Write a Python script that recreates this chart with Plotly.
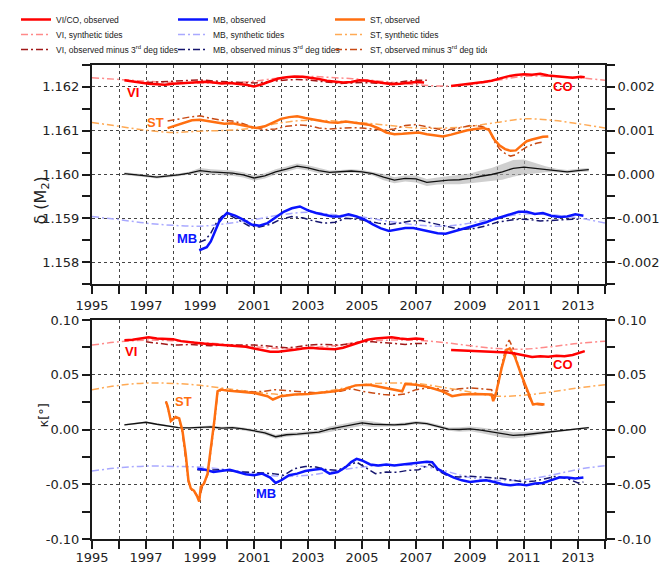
import plotly.graph_objects as go

# ================= DATA =================
# ---- top panel: delta(M2) ----
syn_years = [1995, 1996, 1997, 1998, 1999, 2000, 2001, 2002, 2003, 2004,
             2005, 2006, 2007, 2008, 2009, 2010, 2011, 2012, 2013, 2014]

vi_syn_d = [1.16221, 1.16217, 1.16213, 1.16210, 1.16209, 1.16209, 1.16213, 1.16221, 1.16224, 1.16221,
            1.16217, 1.16211, 1.16205, 1.16202, 1.16205, 1.16215, 1.16224, 1.16224, 1.16221, 1.16215]
st_syn_d = [1.16119, 1.16110, 1.16101, 1.16096, 1.16099, 1.16101, 1.16106, 1.16118, 1.16124, 1.16122,
            1.16118, 1.16112, 1.16106, 1.16106, 1.16110, 1.16119, 1.16127, 1.16124, 1.16116, 1.16106]
mb_syn_d = [1.15904, 1.15897, 1.15889, 1.15884, 1.15882, 1.15888, 1.15897, 1.15908, 1.15914, 1.15908,
            1.15903, 1.15893, 1.15885, 1.15882, 1.15889, 1.15901, 1.15910, 1.15908, 1.15901, 1.15889]

vi_obs_t = [1996.2, 1996.5, 1996.8, 1997.1, 1997.4, 1997.7, 1998.0, 1998.3, 1998.6, 1998.9,
            1999.2, 1999.5, 1999.8, 2000.1, 2000.4, 2000.7, 2001.0, 2001.3, 2001.6, 2001.9,
            2002.2, 2002.5, 2002.8, 2003.1, 2003.4, 2003.7, 2004.0, 2004.3, 2004.6, 2004.9,
            2005.2, 2005.5, 2005.8, 2006.1, 2006.4, 2006.7, 2007.0, 2007.3]
vi_obs_d = [1.16215, 1.16212, 1.16209, 1.16207, 1.16206, 1.16205, 1.16207, 1.16208, 1.16210, 1.16211,
            1.16212, 1.16210, 1.16208, 1.16209, 1.16207, 1.16205, 1.16201, 1.16206, 1.16213, 1.16219,
            1.16222, 1.16224, 1.16223, 1.16221, 1.16218, 1.16214, 1.16212, 1.16210, 1.16211, 1.16215,
            1.16214, 1.16211, 1.16208, 1.16206, 1.16207, 1.16209, 1.16211, 1.16210]

vi_m3_t = [1997.0, 1997.4, 1997.8, 1998.2, 1998.6, 1999.0, 1999.4, 1999.8, 2000.2, 2000.6,
           2001.0, 2001.4, 2001.8, 2002.2, 2002.6, 2003.0, 2003.4, 2003.8, 2004.2, 2004.6,
           2005.0, 2005.4, 2005.8, 2006.2, 2006.6, 2007.0, 2007.4]
vi_m3_d = [1.16210, 1.16211, 1.16212, 1.16213, 1.16215, 1.16216, 1.16214, 1.16212, 1.16211, 1.16210,
           1.16209, 1.16211, 1.16214, 1.16216, 1.16217, 1.16216, 1.16213, 1.16210, 1.16208, 1.16209,
           1.16210, 1.16209, 1.16208, 1.16209, 1.16213, 1.16215, 1.16215]

co_obs_t = [2008.3, 2008.6, 2008.9, 2009.2, 2009.5, 2009.8, 2010.1, 2010.4, 2010.7, 2011.0,
            2011.3, 2011.6, 2011.9, 2012.2, 2012.5, 2012.8, 2013.1, 2013.25]
co_obs_d = [1.16202, 1.16204, 1.16207, 1.16209, 1.16211, 1.16214, 1.16219, 1.16224, 1.16227, 1.16229,
            1.16228, 1.16230, 1.16226, 1.16224, 1.16222, 1.16221, 1.16223, 1.16222]

st_obs_t = [1997.8, 1998.1, 1998.4, 1998.7, 1999.0, 1999.3, 1999.6, 1999.9, 2000.2, 2000.5,
            2000.8, 2001.1, 2001.4, 2001.7, 2002.0, 2002.3, 2002.6, 2002.9, 2003.2, 2003.5,
            2003.8, 2004.1, 2004.4, 2004.7, 2005.0, 2005.3, 2005.6, 2005.9, 2006.2, 2006.5,
            2006.8, 2007.1, 2007.4, 2007.7, 2008.0, 2008.3, 2008.6, 2008.9, 2009.2, 2009.5,
            2009.7, 2009.9, 2010.1, 2010.3, 2010.5, 2010.7, 2010.9, 2011.1, 2011.3, 2011.5,
            2011.7, 2011.9]
st_obs_d = [1.16106, 1.16112, 1.16119, 1.16124, 1.16125, 1.16122, 1.16119, 1.16116, 1.16117, 1.16113,
            1.16110, 1.16106, 1.16110, 1.16118, 1.16127, 1.16131, 1.16133, 1.16129, 1.16125, 1.16122,
            1.16119, 1.16118, 1.16121, 1.16119, 1.16116, 1.16113, 1.16106, 1.16096, 1.16092, 1.16093,
            1.16095, 1.16096, 1.16092, 1.16089, 1.16087, 1.16091, 1.16096, 1.16101, 1.16104, 1.16106,
            1.16102, 1.16080, 1.16066, 1.16058, 1.16054, 1.16055, 1.16066, 1.16076, 1.16080, 1.16083,
            1.16086, 1.16087]

st_m3_t = [1997.8, 1998.2, 1998.6, 1999.0, 1999.4, 1999.8, 2000.2, 2000.6, 2001.0, 2001.4,
           2001.8, 2002.2, 2002.6, 2003.0, 2003.4, 2003.8, 2004.2, 2004.6, 2005.0, 2005.4,
           2005.8, 2006.2, 2006.6, 2007.0, 2007.4, 2007.8, 2008.2, 2008.6, 2009.0, 2009.4,
           2009.7, 2009.9, 2010.1, 2010.3, 2010.5, 2010.7, 2010.9, 2011.1, 2011.3, 2011.5,
           2011.7]
st_m3_d = [1.16122, 1.16127, 1.16131, 1.16134, 1.16128, 1.16124, 1.16122, 1.16116, 1.16107, 1.16102,
           1.16104, 1.16110, 1.16113, 1.16112, 1.16106, 1.16104, 1.16106, 1.16107, 1.16106, 1.16104,
           1.16101, 1.16104, 1.16112, 1.16114, 1.16109, 1.16104, 1.16102, 1.16106, 1.16112, 1.16110,
           1.16104, 1.16076, 1.16058, 1.16048, 1.16042, 1.16045, 1.16055, 1.16063, 1.16068, 1.16072,
           1.16074]

mb_obs_t = [1998.97, 1999.1, 1999.25, 1999.4, 1999.55, 1999.7, 1999.85, 2000.0, 2000.3, 2000.6,
            2000.9, 2001.2, 2001.5, 2001.8, 2002.1, 2002.4, 2002.7, 2003.0, 2003.3, 2003.6,
            2003.9, 2004.2, 2004.5, 2004.8, 2005.1, 2005.4, 2005.7, 2006.0, 2006.3, 2006.6,
            2006.9, 2007.2, 2007.5, 2007.8, 2008.1, 2008.4, 2008.7, 2009.0, 2009.3, 2009.6,
            2009.9, 2010.2, 2010.5, 2010.8, 2011.1, 2011.4, 2011.7, 2012.0, 2012.3, 2012.6,
            2012.9, 2013.2]
mb_obs_d = [1.15827, 1.15830, 1.15834, 1.15847, 1.15870, 1.15891, 1.15903, 1.15912, 1.15906, 1.15897,
            1.15886, 1.15883, 1.15889, 1.15901, 1.15915, 1.15923, 1.15927, 1.15918, 1.15912, 1.15908,
            1.15904, 1.15904, 1.15909, 1.15904, 1.15897, 1.15886, 1.15877, 1.15871, 1.15874, 1.15878,
            1.15878, 1.15874, 1.15869, 1.15866, 1.15865, 1.15870, 1.15875, 1.15881, 1.15886, 1.15891,
            1.15898, 1.15904, 1.15909, 1.15915, 1.15915, 1.15910, 1.15912, 1.15906, 1.15903, 1.15904,
            1.15909, 1.15906]

mb_m3_t = [1998.97, 1999.2, 1999.4, 1999.6, 1999.8, 2000.0, 2000.4, 2000.8, 2001.2, 2001.6,
           2002.0, 2002.4, 2002.8, 2003.2, 2003.6, 2004.0, 2004.4, 2004.8, 2005.2, 2005.6,
           2006.0, 2006.4, 2006.8, 2007.2, 2007.6, 2008.0, 2008.4, 2008.8, 2009.2, 2009.6,
           2010.0, 2010.4, 2010.8, 2011.2, 2011.6, 2012.0, 2012.4, 2012.8, 2013.1]
mb_m3_d = [1.15845, 1.15851, 1.15866, 1.15889, 1.15904, 1.15910, 1.15897, 1.15883, 1.15880, 1.15886,
           1.15898, 1.15904, 1.15901, 1.15894, 1.15889, 1.15891, 1.15900, 1.15898, 1.15894, 1.15889,
           1.15886, 1.15889, 1.15894, 1.15895, 1.15889, 1.15883, 1.15878, 1.15875, 1.15877, 1.15883,
           1.15891, 1.15895, 1.15898, 1.15897, 1.15894, 1.15895, 1.15897, 1.15898, 1.15898]

diff_t = [1996.2, 1996.6, 1997.0, 1997.4, 1997.8, 1998.2, 1998.6, 1999.0, 1999.4, 1999.8,
          2000.2, 2000.6, 2001.0, 2001.4, 2001.8, 2002.2, 2002.6, 2003.0, 2003.4, 2003.8,
          2004.2, 2004.6, 2005.0, 2005.4, 2005.8, 2006.2, 2006.6, 2007.0, 2007.4, 2007.8,
          2008.2, 2008.6, 2009.0, 2009.4, 2009.8, 2010.2, 2010.6, 2011.0, 2011.4, 2011.8,
          2012.2, 2012.6, 2013.0, 2013.4]
diff_d = [1.16002, 1.16000, 1.15997, 1.15994, 1.15996, 1.15999, 1.16003, 1.16009, 1.16006, 1.16005,
          1.16003, 1.15999, 1.15992, 1.15997, 1.16006, 1.16012, 1.16019, 1.16015, 1.16009, 1.16005,
          1.16006, 1.16008, 1.16006, 1.16002, 1.15994, 1.15987, 1.15991, 1.15990, 1.15982, 1.15985,
          1.15987, 1.15988, 1.15991, 1.15996, 1.16000, 1.16006, 1.16014, 1.16017, 1.16014, 1.16012,
          1.16009, 1.16006, 1.16009, 1.16011]
diff_err_d = [0.00003, 0.00003, 0.00003, 0.00003, 0.00003, 0.00003, 0.00003, 0.00006, 0.00006, 0.00006,
              0.00006, 0.00006, 0.00006, 0.00006, 0.00006, 0.00006, 0.00006, 0.00006, 0.00006, 0.00004,
              0.00004, 0.00004, 0.00004, 0.00004, 0.00007, 0.00007, 0.00007, 0.00008, 0.00008, 0.00008,
              0.00009, 0.00010, 0.00011, 0.00013, 0.00015, 0.00018, 0.00019, 0.00017, 0.00012, 0.00007,
              0.00004, 0.00004, 0.00004, 0.00004]

# ---- bottom panel: kappa [deg] ----
vi_syn_k = [0.0771, 0.0801, 0.0816, 0.0810, 0.0795, 0.0777, 0.0756, 0.0740, 0.0746, 0.0765,
            0.0801, 0.0816, 0.0816, 0.0795, 0.0765, 0.0740, 0.0734, 0.0756, 0.0786, 0.0807]
st_syn_k = [0.0364, 0.0403, 0.0424, 0.0421, 0.0403, 0.0373, 0.0343, 0.0319, 0.0325, 0.0364,
            0.0409, 0.0424, 0.0421, 0.0385, 0.0343, 0.0304, 0.0313, 0.0343, 0.0379, 0.0409]
mb_syn_k = [-0.0379, -0.0349, -0.0334, -0.0337, -0.0343, -0.0367, -0.0397, -0.0427, -0.0418, -0.0379,
            -0.0343, -0.0328, -0.0328, -0.0373, -0.0439, -0.0464, -0.0458, -0.0418, -0.0364, -0.0331]

vi_obs_k = [0.0816, 0.0819, 0.0831, 0.0843, 0.0831, 0.0825, 0.0825, 0.0807, 0.0795, 0.0789,
            0.0783, 0.0777, 0.0771, 0.0765, 0.0765, 0.0756, 0.0740, 0.0722, 0.0710, 0.0710,
            0.0716, 0.0728, 0.0740, 0.0746, 0.0740, 0.0740, 0.0734, 0.0746, 0.0771, 0.0801,
            0.0819, 0.0831, 0.0837, 0.0843, 0.0831, 0.0825, 0.0831, 0.0825]
vi_m3_k = [0.0801, 0.0786, 0.0777, 0.0771, 0.0777, 0.0771, 0.0765, 0.0771, 0.0771, 0.0777,
           0.0771, 0.0765, 0.0756, 0.0746, 0.0756, 0.0771, 0.0777, 0.0777, 0.0771, 0.0786,
           0.0801, 0.0801, 0.0795, 0.0786, 0.0777, 0.0786, 0.0786]
co_obs_k = [0.0725, 0.0722, 0.0716, 0.0719, 0.0716, 0.0710, 0.0704, 0.0704, 0.0692, 0.0674,
            0.0662, 0.0668, 0.0665, 0.0674, 0.0668, 0.0680, 0.0704, 0.0716]

st_obs_k_t = [1997.74, 1997.8, 1997.92, 1997.98, 1998.1, 1998.23, 1998.35, 1998.47, 1998.57, 1998.66,
              1998.78, 1998.9, 1998.97, 1999.03, 1999.15, 1999.28, 1999.4, 1999.53, 1999.65, 1999.77,
              2000.0, 2000.5, 2001.0, 2001.5, 2001.7, 2002.0, 2002.5, 2003.0, 2003.5, 2004.0,
              2004.3, 2004.76, 2005.26, 2005.75, 2006.24, 2006.49, 2006.6, 2007.0, 2007.5, 2007.97,
              2008.34, 2008.7, 2009.2, 2009.6, 2009.8, 2009.86, 2009.98, 2010.17, 2010.35, 2010.47,
              2010.66, 2010.9, 2011.15, 2011.33, 2011.5, 2011.76]
st_obs_k = [0.0253, 0.0214, 0.0078, 0.0093, 0.0114, 0.0102, -0.0012, -0.0223, -0.0463, -0.0539,
            -0.0560, -0.0614, -0.0659, -0.0524, -0.0494, -0.0403, -0.0193, 0.0078, 0.0349, 0.0364,
            0.0355, 0.0343, 0.0334, 0.0304, 0.0274, 0.0304, 0.0319, 0.0325, 0.0334, 0.0349,
            0.0364, 0.0403, 0.0409, 0.0385, 0.0364, 0.0349, 0.0415, 0.0409, 0.0385, 0.0349,
            0.0304, 0.0319, 0.0325, 0.0325, 0.0319, 0.0259, 0.0349, 0.0560, 0.0725, 0.0740,
            0.0665, 0.0500, 0.0334, 0.0229, 0.0235, 0.0229]

st_m3_k_t = [1997.74, 1997.92, 1998.1, 1998.23, 1998.35, 1998.47, 1998.57, 1998.7, 1998.85, 1998.97,
             1999.1, 1999.28, 1999.4, 1999.53, 1999.65, 1999.8, 2000.2, 2000.6, 2001.0, 2001.4,
             2001.8, 2002.2, 2002.6, 2003.0, 2003.4, 2003.8, 2004.2, 2004.6, 2005.0, 2005.4,
             2005.8, 2006.2, 2006.6, 2007.0, 2007.4, 2007.8, 2008.2, 2008.6, 2009.0, 2009.4,
             2009.8, 2009.9, 2010.0, 2010.17, 2010.35, 2010.45, 2010.6, 2010.8, 2011.0, 2011.2,
             2011.35, 2011.5, 2011.7]
st_m3_k = [0.0259, 0.0084, 0.0108, 0.0093, -0.0027, -0.0253, -0.0479, -0.0554, -0.0584, -0.0638,
           -0.0509, -0.0418, -0.0208, 0.0048, 0.0334, 0.0364, 0.0355, 0.0349, 0.0343, 0.0349,
           0.0364, 0.0355, 0.0349, 0.0343, 0.0334, 0.0343, 0.0349, 0.0373, 0.0349, 0.0334,
           0.0319, 0.0313, 0.0325, 0.0364, 0.0379, 0.0373, 0.0349, 0.0373, 0.0379, 0.0373,
           0.0364, 0.0274, 0.0349, 0.0575, 0.0771, 0.0816, 0.0740, 0.0575, 0.0409, 0.0289,
           0.0229, 0.0229, 0.0223]

mb_obs_k_t = [1998.9, 1999.2, 1999.5, 1999.8, 2000.1, 2000.4, 2000.7, 2001.0, 2001.3, 2001.6,
              2001.8, 2002.0, 2002.3, 2002.6, 2002.9, 2003.2, 2003.5, 2003.8, 2004.1, 2004.4,
              2004.6, 2004.8, 2005.0, 2005.3, 2005.6, 2005.9, 2006.2, 2006.5, 2006.8, 2007.1,
              2007.4, 2007.6, 2007.8, 2008.1, 2008.4, 2008.7, 2009.0, 2009.3, 2009.6, 2009.9,
              2010.2, 2010.5, 2010.8, 2011.1, 2011.4, 2011.7, 2012.0, 2012.3, 2012.6, 2012.9,
              2013.2]
mb_obs_k = [-0.0358, -0.0367, -0.0388, -0.0379, -0.0367, -0.0388, -0.0409, -0.0418, -0.0403, -0.0439,
            -0.0488, -0.0464, -0.0418, -0.0403, -0.0379, -0.0367, -0.0358, -0.0403, -0.0388, -0.0343,
            -0.0298, -0.0268, -0.0283, -0.0319, -0.0328, -0.0319, -0.0328, -0.0319, -0.0313, -0.0307,
            -0.0295, -0.0298, -0.0358, -0.0403, -0.0439, -0.0464, -0.0479, -0.0470, -0.0464, -0.0479,
            -0.0500, -0.0509, -0.0500, -0.0509, -0.0494, -0.0488, -0.0464, -0.0439, -0.0439, -0.0448,
            -0.0439]

mb_m3_k_t = [1998.9, 1999.3, 1999.7, 2000.1, 2000.5, 2000.9, 2001.3, 2001.7, 2002.1, 2002.5,
             2002.9, 2003.3, 2003.7, 2004.1, 2004.5, 2004.8, 2005.1, 2005.5, 2005.9, 2006.3,
             2006.7, 2007.1, 2007.5, 2007.8, 2008.2, 2008.6, 2009.0, 2009.4, 2009.8, 2010.2,
             2010.6, 2011.0, 2011.4, 2011.8, 2012.2, 2012.6, 2013.0, 2013.2]
mb_m3_k = [-0.0367, -0.0373, -0.0367, -0.0379, -0.0388, -0.0391, -0.0397, -0.0403, -0.0418, -0.0358,
           -0.0337, -0.0343, -0.0367, -0.0373, -0.0328, -0.0298, -0.0343, -0.0403, -0.0388, -0.0391,
           -0.0373, -0.0367, -0.0319, -0.0373, -0.0427, -0.0433, -0.0427, -0.0433, -0.0442, -0.0448,
           -0.0464, -0.0479, -0.0470, -0.0448, -0.0427, -0.0448, -0.0488, -0.0479]

diff_k = [0.0042, 0.0054, 0.0066, 0.0048, 0.0030, 0.0018, 0.0015, 0.0018, 0.0024, 0.0012,
          0.0018, 0.0006, -0.0012, -0.0030, -0.0066, -0.0048, -0.0042, -0.0036, -0.0024, 0.0003,
          0.0024, 0.0042, 0.0060, 0.0048, 0.0042, 0.0042, 0.0048, 0.0063, 0.0054, 0.0030,
          0.0003, 0.0000, 0.0006, -0.0006, -0.0024, -0.0042, -0.0054, -0.0048, -0.0036, -0.0024,
          -0.0018, -0.0006, 0.0006, 0.0018]
diff_err_k = [0.0008, 0.0008, 0.0008, 0.0008, 0.0008, 0.0008, 0.0008, 0.0012, 0.0012, 0.0012,
              0.0012, 0.0012, 0.0012, 0.0018, 0.0018, 0.0018, 0.0018, 0.0018, 0.0018, 0.0025,
              0.0025, 0.0025, 0.0025, 0.0025, 0.0015, 0.0015, 0.0015, 0.0015, 0.0015, 0.0015,
              0.0015, 0.0020, 0.0022, 0.0025, 0.0028, 0.0030, 0.0028, 0.0025, 0.0020, 0.0015,
              0.0008, 0.0008, 0.0008, 0.0008]

# tick labels
d_left_vals = [1.158, 1.159, 1.160, 1.161, 1.162]
d_left_text = ["1.158", "1.159", "1.160", "1.161", "1.162"]
d_right_vals = [-0.002, -0.001, 0.0, 0.001, 0.002]
d_right_text = ["-0.002", "-0.001", "0.000", "0.001", "0.002"]
k_vals = [-0.10, -0.05, 0.0, 0.05, 0.10]
k_text = ["-0.10", "-0.05", "0.00", "0.05", "0.10"]

# ================= STYLE =================
COL = dict(vi="#ff0000", vi_syn="#ff8a8a", vi_m3="#a01818",
           mb="#0a14ff", mb_syn="#a9a9ff", mb_m3="#15156e",
           st="#ff6f10", st_syn="#ffaa55", st_m3="#c84a14")
DASH = "7px,3px,2px,3px"
AX = "#1a1a1a"
GRID = "#444444"

# the page body adds an 8 px offset, so the figure is laid out 8 px smaller
OFF = 8
W, H = 670 - OFF, 565 - OFF
PLOT_BOTTOM = 539          # page y of the lower panel's x axis
PLOT_H = (H - (65 - OFF) - (565 - PLOT_BOTTOM))

fig = go.Figure()


def band(t, v, e, xa, ya):
    lo = [a - b for a, b in zip(v, e)]
    hi = [a + b for a, b in zip(v, e)]
    fig.add_trace(go.Scatter(x=t, y=lo, mode="lines", line=dict(width=0), showlegend=False,
                             hoverinfo="skip", xaxis=xa, yaxis=ya))
    fig.add_trace(go.Scatter(x=t, y=hi, mode="lines", line=dict(width=0), fill="tonexty",
                             fillcolor="rgba(175,175,175,0.6)", showlegend=False,
                             hoverinfo="skip", xaxis=xa, yaxis=ya))


def line(t, v, color, width, dash, xa, ya, name=None, legend=None, shape="linear"):
    fig.add_trace(go.Scatter(x=t, y=v, mode="lines", name=name,
                             line=dict(color=color, width=width, dash=dash, shape=shape),
                             showlegend=name is not None, legend=legend,
                             xaxis=xa, yaxis=ya))


# ---- top panel ----
band(diff_t, diff_d, diff_err_d, "x", "y")
line(diff_t, diff_d, "#111111", 1.3, "solid", "x", "y")
line(syn_years, vi_syn_d, COL["vi_syn"], 1.5, DASH, "x", "y", "VI, synthetic tides", "legend2", "spline")
line(syn_years, mb_syn_d, COL["mb_syn"], 1.5, DASH, "x", "y", "MB, synthetic tides", "legend2", "spline")
line(syn_years, st_syn_d, COL["st_syn"], 1.5, DASH, "x", "y", "ST, synthetic tides", "legend2", "spline")
line(vi_m3_t, vi_m3_d, COL["vi_m3"], 1.5, DASH, "x", "y", "VI, observed minus 3<sup>rd</sup> deg tides", "legend3")
line(mb_m3_t, mb_m3_d, COL["mb_m3"], 1.5, DASH, "x", "y", "MB, observed minus 3<sup>rd</sup> deg tides", "legend3")
line(st_m3_t, st_m3_d, COL["st_m3"], 1.5, DASH, "x", "y", "ST, observed minus 3<sup>rd</sup> deg tides", "legend3")
line(vi_obs_t, vi_obs_d, COL["vi"], 2.5, "solid", "x", "y", "VI/CO, observed", "legend")
line(mb_obs_t, mb_obs_d, COL["mb"], 2.5, "solid", "x", "y", "MB, observed", "legend")
line(st_obs_t, st_obs_d, COL["st"], 2.5, "solid", "x", "y", "ST, observed", "legend")
line(co_obs_t, co_obs_d, COL["vi"], 2.5, "solid", "x", "y")

# ---- bottom panel ----
band(diff_t, diff_k, diff_err_k, "x2", "y3")
line(diff_t, diff_k, "#111111", 1.3, "solid", "x2", "y3")
line(syn_years, vi_syn_k, COL["vi_syn"], 1.5, DASH, "x2", "y3", shape="spline")
line(syn_years, mb_syn_k, COL["mb_syn"], 1.5, DASH, "x2", "y3", shape="spline")
line(syn_years, st_syn_k, COL["st_syn"], 1.5, DASH, "x2", "y3", shape="spline")
line(vi_m3_t, vi_m3_k, COL["vi_m3"], 1.5, DASH, "x2", "y3")
line(mb_m3_k_t, mb_m3_k, COL["mb_m3"], 1.5, DASH, "x2", "y3")
line(st_m3_k_t, st_m3_k, COL["st_m3"], 1.5, DASH, "x2", "y3")
line(vi_obs_t, vi_obs_k, COL["vi"], 2.5, "solid", "x2", "y3")
line(mb_obs_k_t, mb_obs_k, COL["mb"], 2.5, "solid", "x2", "y3")
line(st_obs_k_t, st_obs_k, COL["st"], 2.5, "solid", "x2", "y3")
line(co_obs_t, co_obs_k, COL["vi"], 2.5, "solid", "x2", "y3")

# invisible traces so the right axes render
fig.add_trace(go.Scatter(x=[1995], y=[0], mode="markers", marker=dict(opacity=0),
                         showlegend=False, hoverinfo="skip", xaxis="x", yaxis="y2"))
fig.add_trace(go.Scatter(x=[1995], y=[0], mode="markers", marker=dict(opacity=0),
                         showlegend=False, hoverinfo="skip", xaxis="x2", yaxis="y4"))

# ================= AXES =================
tickfont = dict(family="DejaVu Sans", size=13, color="#222222")
xcommon = dict(range=[1995, 2014], tickmode="linear", tick0=1995, dtick=2,
               ticks="outside", ticklen=8, tickwidth=1.8, tickcolor=AX,
               showline=True, linewidth=2, linecolor=AX, mirror=True,
               showgrid=True, gridcolor=GRID, griddash="dot", gridwidth=1,
               zeroline=False, tickfont=tickfont,
               minor=dict(tick0=1995, dtick=1, ticks="outside", ticklen=8, tickwidth=1.8,
                          tickcolor=AX, showgrid=True, gridcolor=GRID,
                          griddash="dot", gridwidth=1))


def yax(rng, vals, text, minor_vals, grid, domain=None, side="left", overlay=None, anchor=None):
    d = dict(range=rng, tickmode="array", tickvals=vals, ticktext=text,
             ticks="outside", ticklen=8, tickwidth=1.8, tickcolor=AX,
             showline=True, linewidth=2, linecolor=AX, side=side,
             showgrid=grid, gridcolor=GRID, griddash="dot", gridwidth=1,
             zeroline=False, tickfont=tickfont,
             minor=dict(tickvals=minor_vals, ticks="outside", ticklen=8, tickwidth=1.8,
                        tickcolor=AX, showgrid=False))
    if domain is not None:
        d["domain"] = domain
    if overlay is not None:
        d["overlaying"] = overlay
    if anchor is not None:
        d["anchor"] = anchor
    return d


d_minor = [1.1575, 1.1585, 1.1595, 1.1605, 1.1615, 1.1625]
d_minor_r = [-0.0025, -0.0015, -0.0005, 0.0005, 0.0015, 0.0025]
k_minor = [-0.075, -0.025, 0.025, 0.075]

legend_font = dict(family="Liberation Sans, Arial", size=8.5, color="#222222")


def leg(ypix):
    return dict(orientation="h", xref="container", yref="container",
                x=(16 - OFF) / W, xanchor="left", y=1 - (ypix - OFF) / H, yanchor="middle",
                entrywidth=112, entrywidthmode="pixels", font=legend_font,
                traceorder="normal",
                bgcolor="rgba(0,0,0,0)", borderwidth=0, itemclick=False, itemdoubleclick=False,
                tracegroupgap=0)


top_lo = (PLOT_BOTTOM - 284) / PLOT_H
bot_hi = (PLOT_BOTTOM - 320) / PLOT_H

fig.update_layout(
    width=W, height=H,
    margin=dict(l=92 - OFF, r=670 - 605, t=65 - OFF, b=565 - PLOT_BOTTOM, autoexpand=False),
    paper_bgcolor="white", plot_bgcolor="white",
    showlegend=True,
    xaxis=dict(xcommon, anchor="y"),
    xaxis2=dict(xcommon, anchor="y3"),
    yaxis=yax([1.1575, 1.1625], d_left_vals, d_left_text, d_minor, True, domain=[top_lo, 1.0], anchor="x"),
    yaxis2=yax([-0.0025, 0.0025], d_right_vals, d_right_text, d_minor_r, False,
               side="right", overlay="y", anchor="x"),
    yaxis3=yax([-0.1, 0.1], k_vals, k_text, k_minor, True, domain=[0.0, bot_hi], anchor="x2"),
    yaxis4=yax([-0.1, 0.1], k_vals, k_text, k_minor, False, side="right", overlay="y3", anchor="x2"),
    legend=leg(19.5), legend2=leg(34.5), legend3=leg(49.5),
)
try:
    fig.update_layout(xaxis2_ticklabelstandoff=-3)
except Exception:
    pass

# ================= LABELS =================
labels = [
    ("VI", 1996.5, 1.16187, "x", "y", COL["vi"]),
    ("CO", 2012.45, 1.16200, "x", "y", COL["vi"]),
    ("ST", 1997.35, 1.16118, "x", "y", COL["st"]),
    ("MB", 1998.5, 1.15855, "x", "y", COL["mb"]),
    ("VI", 1996.45, 0.071, "x2", "y3", COL["vi"]),
    ("CO", 2012.45, 0.059, "x2", "y3", COL["vi"]),
    ("ST", 1998.4, 0.026, "x2", "y3", COL["st"]),
    ("MB", 2001.45, -0.0584, "x2", "y3", COL["mb"]),
]
for txt, xv, yv, xr, yr, c in labels:
    fig.add_annotation(text="<b>%s</b>" % txt, x=xv, y=yv, xref=xr, yref=yr, showarrow=False,
                       font=dict(family="Liberation Sans", size=13, color=c))

fig.add_annotation(text="δ (M<sub>2</sub>)", x=(28 - 92) / 513, y=(PLOT_BOTTOM - 175) / PLOT_H,
                   xref="paper", yref="paper", showarrow=False, textangle=-90,
                   font=dict(family="DejaVu Sans", size=16, color="#222222"))
fig.add_annotation(text="κ[°]", x=(33 - 92) / 513, y=(PLOT_BOTTOM - 430) / PLOT_H,
                   xref="paper", yref="paper", showarrow=False, textangle=-90,
                   font=dict(family="DejaVu Sans", size=13, color="#222222"))

fig.write_html("out.html")
